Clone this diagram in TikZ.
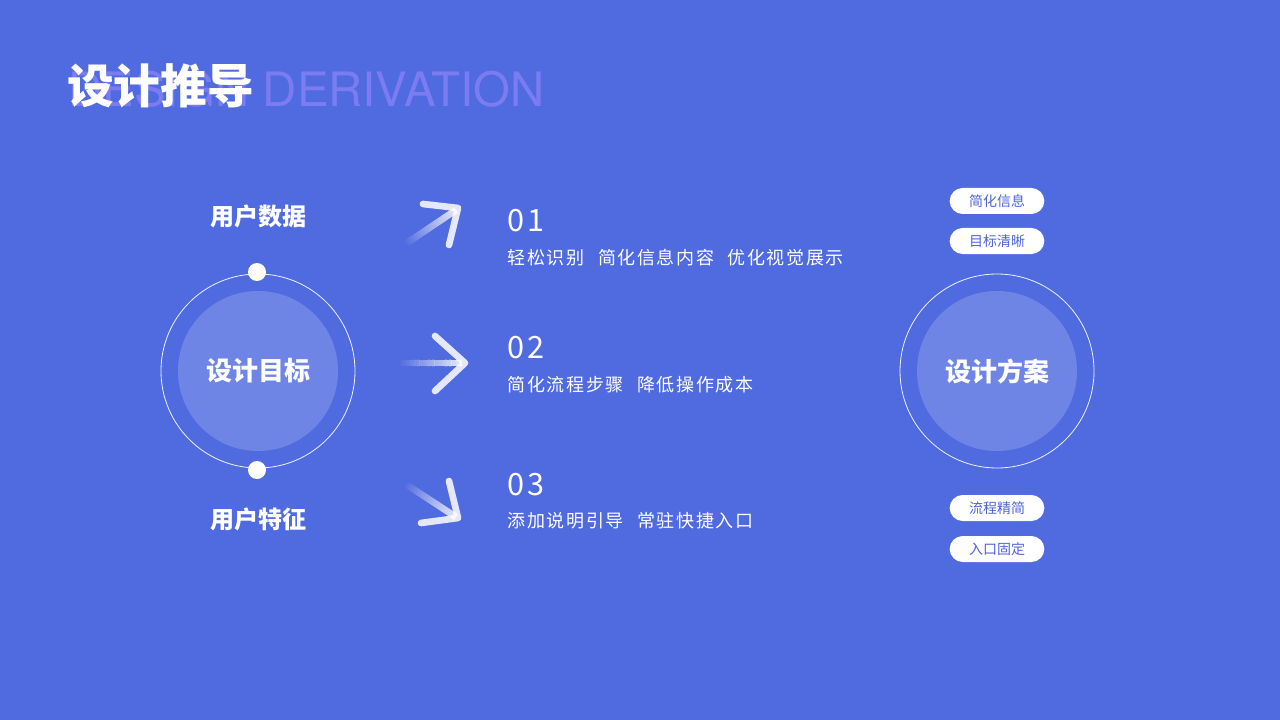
\documentclass[tikz,border=0pt]{standalone}
\usepackage{fontspec}
\setmainfont{Noto Sans CJK SC}
\newfontfamily\spaced[LetterSpace=9]{Noto Sans CJK SC}
\newfontfamily\heros{TeX Gyre Heros}
\usetikzlibrary{calc}
\definecolor{bg}{HTML}{506BE0}
\definecolor{ghost}{HTML}{7C7CF2}
\definecolor{pilltxt}{HTML}{4F63D8}
\tikzset{
  lbl/.style={text=white,font=\fontsize{18}{20}\selectfont\bfseries},
  ctr/.style={text=white,font=\fontsize{19.5}{22}\selectfont\bfseries},
  num/.style={text=white,anchor=west,font=\spaced\fontsize{23}{24}\selectfont},
  sub/.style={text=white,anchor=west,font=\spaced\fontsize{13.5}{16}\selectfont},
  pill/.style={fill=white,rounded corners=9.75pt,minimum width=71pt,minimum height=19.5pt,inner sep=0pt,text=pilltxt,font=\fontsize{10.5}{12}\selectfont},
  head/.style={white,opacity=0.85,line width=5pt,line cap=round,line join=round},
  dotc/.style={fill=white,draw=none}
}
\newcommand{\gradline}[2]{%
  \foreach \i in {0,...,29}{%
    \pgfmathsetmacro{\a}{\i/30}\pgfmathsetmacro{\b}{(\i+1)/30}\pgfmathsetmacro{\o}{0.85*\i/29}%
    \draw[white,draw opacity=\o,line width=5pt] ($(#1)!\a!(#2)$) -- ($(#1)!\b!(#2)$);}}
\newcommand{\gap}{\hspace{0.75em}}
\begin{document}
\begin{tikzpicture}[x=0.75pt,y=-0.75pt]
\fill[bg] (0,0) rectangle (1280,720);
\useasboundingbox (0,0) rectangle (1280,720);
\node[anchor=west,text=ghost,font=\heros\fontsize{35.5}{38}\selectfont,inner sep=0pt] (en) at (68,89) {DESIGN DERIVATION};
\node[anchor=west,text=white,font=\fontsize{35}{38}\selectfont\bfseries,inner sep=0pt] (title) at (67,86) {设计推导};
% left
\coordinate (L) at (258,371);
\draw[white,line width=0.6pt,opacity=0.9] (L) circle (97);
\fill[white,opacity=0.18] (L) circle (80);
\node[ctr] (lt) at (L) {设计目标};
\fill[dotc] (257,272) circle (9);
\fill[dotc] (257,470) circle (9);
\node[lbl] (ud) at (258,216) {用户数据};
\node[lbl] (uf) at (258,519) {用户特征};
% right
\coordinate (R) at (997,371);
\draw[white,line width=0.6pt,opacity=0.9] (R) circle (97);
\fill[white,opacity=0.18] (R) circle (80);
\node[ctr] (rt) at (R) {设计方案};
\node[pill] (p1) at (997,201) {简化信息};
\node[pill] (p2) at (997,241) {目标清晰};
\node[pill] (p3) at (997,508) {流程精简};
\node[pill] (p4) at (997,549) {入口固定};
% texts
\node[num] (n1) at (503,221) {01};
\node[sub] (s1) at (503,258) {轻松识别\gap 简化信息内容\gap 优化视觉展示};
\node[num] (n2) at (503,348) {02};
\node[sub] (s2) at (503,385) {简化流程步骤\gap 降低操作成本};
\node[num] (n3) at (503,485) {03};
\node[sub] (s3) at (503,521) {添加说明引导\gap 常驻快捷入口};
% arrows
\coordinate (a1s) at (404,245); \coordinate (a1e) at (456,210);
\gradline{a1s}{a1e}
\draw[head] (423,204) -- (458,208) -- (449,245);
\coordinate (a2s) at (398,363); \coordinate (a2e) at (462,363);
\gradline{a2s}{a2e}
\draw[head] (435,336) -- (465,363) -- (435,391);
\coordinate (a3s) at (404,483); \coordinate (a3e) at (456,517);
\gradline{a3s}{a3e}
\draw[head] (449,481) -- (458,518) -- (421,523);
\end{tikzpicture}
\end{document}
